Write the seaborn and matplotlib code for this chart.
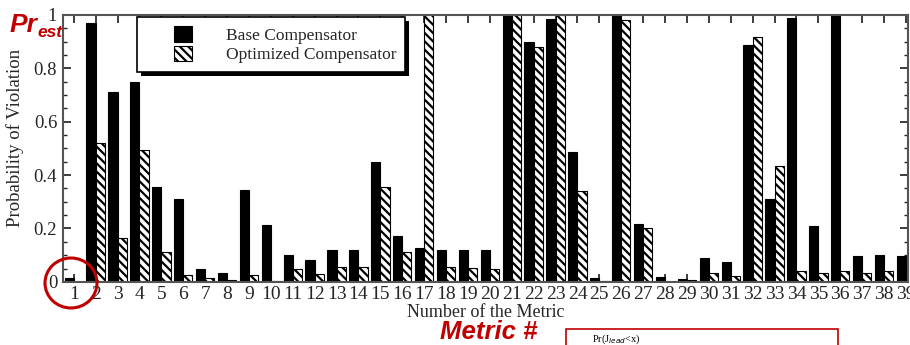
import numpy as np
import pandas as pd
import seaborn as sns
from matplotlib import pyplot as plt
from matplotlib.patches import Ellipse, Rectangle
from matplotlib.ticker import MultipleLocator, FuncFormatter

sns.set_theme(style='ticks')
plt.rcParams['font.family'] = ['Liberation Serif', 'DejaVu Serif']
plt.rcParams['hatch.linewidth'] = 1.6

metrics = list(range(1, 40))
base = [0.015, 0.97, 0.71, 0.75, 0.355, 0.31, 0.05, 0.033, 0.345, 0.213,
        0.10, 0.083, 0.12, 0.12, 0.45, 0.17, 0.125, 0.12, 0.12, 0.12,
        1.0, 0.90, 0.985, 0.487, 0.015, 1.0, 0.218, 0.018, 0.012, 0.09,
        0.075, 0.887, 0.31, 0.99, 0.21, 1.0, 0.098, 0.10, 0.095]
optimized = [0.0, 0.52, 0.165, 0.495, 0.113, 0.025, 0.015, 0.008, 0.025, 0.005,
             0.048, 0.03, 0.055, 0.055, 0.357, 0.113, 1.0, 0.055, 0.052, 0.05,
             1.0, 0.88, 1.0, 0.34, 0.003, 0.98, 0.20, 0.0, 0.008, 0.033,
             0.022, 0.917, 0.435, 0.04, 0.035, 0.04, 0.035, 0.04, 0.02]
series = ['Base Compensator', 'Optimized Compensator']

df = pd.DataFrame({
    'metric': metrics * 2,
    'prob': base + optimized,
    'comp': [series[0]] * len(metrics) + [series[1]] * len(metrics),
})

fig = plt.figure(figsize=(9.1, 3.45), dpi=100)
ax = fig.add_axes([0.069, 0.183, 0.929, 0.774])

sns.barplot(data=df, x='metric', y='prob', hue='comp', palette=['black', 'white'],
            edgecolor='black', linewidth=0.8, width=0.84, errorbar=None, ax=ax)
hatch = '\\\\\\\\'
for bar in ax.containers[1]:
    bar.set_hatch(hatch)

ax.set_xlim(-0.5, 38.1)
ax.set_ylim(0, 1)
ax.yaxis.set_major_locator(MultipleLocator(0.2))
ax.yaxis.set_minor_locator(MultipleLocator(0.05))
ax.yaxis.set_major_formatter(FuncFormatter(
    lambda v, p: '0' if abs(v) < 1e-9 else ('1' if abs(v - 1) < 1e-9 else f'{v:.1f}')))
ax.tick_params(direction='in', top=True, right=True, labelsize=13.5, length=6, pad=4)
ax.tick_params(which='minor', direction='in', left=True, right=True, length=3)
ax.tick_params(axis='x', labelsize=14, pad=3)
for s in ax.spines.values():
    s.set_color('#555555')
    s.set_linewidth(1.5)

ax.set_xlabel('Number of the Metric', fontsize=13, labelpad=1)
ax.set_ylabel('Probability of Violation', fontsize=13.5)
ax.yaxis.set_label_coords(-0.046, 0.54)

# legend frame with solid drop shadow
ax.add_patch(Rectangle((0.0876 + 0.005, 0.7865 - 0.015), 0.317, 0.206, transform=ax.transAxes,
                       facecolor='black', edgecolor='none', zorder=5, clip_on=False))
ax.add_patch(Rectangle((0.0876, 0.7865), 0.317, 0.206, transform=ax.transAxes,
                       facecolor='white', edgecolor='black', linewidth=1.2, zorder=6,
                       clip_on=False))
leg = ax.legend(loc='upper left', bbox_to_anchor=(0.132, 0.958), fontsize=12.5,
                frameon=False, handlelength=1.0, handleheight=1.0, handletextpad=2.0,
                borderpad=0, labelspacing=0.1, borderaxespad=0)
leg.set_zorder(7)
leg.legend_handles[1].set_hatch(hatch)

red = '#c00000'
fig.text(0.011, 0.907, 'Pr', color=red, fontsize=19, fontweight='bold',
         style='italic', family='Liberation Sans')
fig.text(0.041, 0.893, 'est', color=red, fontsize=12.5, fontweight='bold',
         style='italic', family='Liberation Sans')
fig.text(0.483, 0.018, 'Metric #', color=red, fontsize=18.5, fontweight='bold',
         style='italic', family='Liberation Sans')

fig.add_artist(Ellipse((71 / 910, 1 - 283 / 345), 52 / 910, 50 / 345,
                       transform=fig.transFigure, fill=False, edgecolor=red, linewidth=2.2))
fig.add_artist(Rectangle((566 / 910, -0.05), 272 / 910, 0.05 + 16 / 345,
                         transform=fig.transFigure, fill=False, edgecolor=red, linewidth=1.2))
fig.text(0.65, 0.008, 'Pr(J$_{lead}$<x)', fontsize=7.5, color='black')

fig.savefig('out.png', dpi=100)
